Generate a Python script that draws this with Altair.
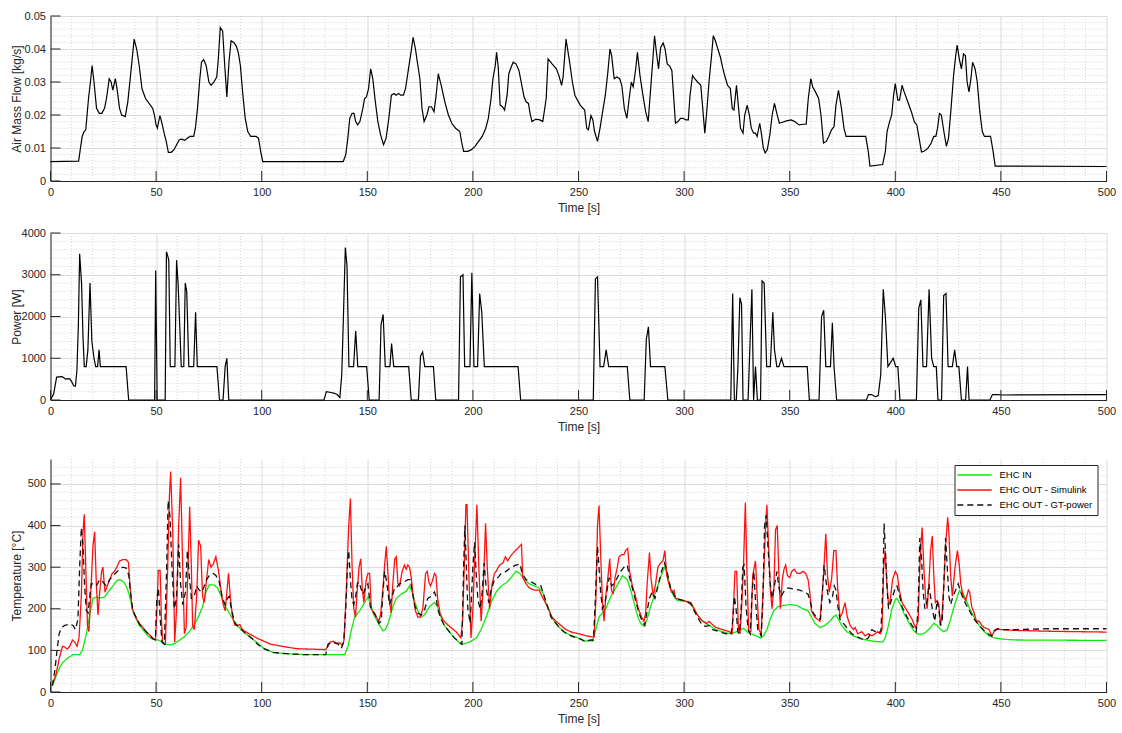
import altair as alt
import pandas as pd

# ---------------- data: [time s, value] ----------------
AIR_FLOW = [
    [0, 0.0059], [13.3, 0.006], [15, 0.0135], [15.9, 0.015], [16.7, 0.0155], [18, 0.025], [18.9, 0.030],
    [19.7, 0.035], [20.6, 0.030], [21.8, 0.022], [23.1, 0.0205], [24.3, 0.0205], [25.6, 0.022], [26.5, 0.025],
    [27.8, 0.031], [28.7, 0.030], [29.5, 0.0275], [30.7, 0.031], [31.5, 0.028], [32.7, 0.022], [33.7, 0.020],
    [35.4, 0.0195], [36.6, 0.024], [37.9, 0.032], [39.6, 0.043], [40.8, 0.040], [42, 0.035], [43.3, 0.028],
    [45, 0.025], [46.7, 0.0235], [48.4, 0.022], [49.2, 0.020], [50, 0.017], [50.6, 0.016], [51.8, 0.0198],
    [52.6, 0.018], [53.8, 0.0145], [54.8, 0.012], [55.8, 0.0087], [57.2, 0.0087], [58.5, 0.0095], [59.7, 0.011],
    [61, 0.0125], [62.2, 0.0127], [63.6, 0.0123], [64.9, 0.013], [66.1, 0.0135], [67.8, 0.0135], [68.6, 0.016],
    [69.6, 0.022], [70.7, 0.031], [71.5, 0.036], [72.5, 0.0368], [73.7, 0.035], [75, 0.030], [76, 0.029],
    [77.4, 0.030], [78.7, 0.0315], [79.4, 0.0365], [80.4, 0.0465], [81.5, 0.0455], [82.5, 0.035], [83.5, 0.0255],
    [84.5, 0.036], [85.5, 0.0425], [86.8, 0.042], [88, 0.0408], [88.9, 0.039], [89.9, 0.035], [91.1, 0.026],
    [92.2, 0.019], [93.4, 0.015], [94.8, 0.0135], [97.3, 0.0135], [98.5, 0.013], [99.5, 0.009], [100.5, 0.0059],
    [138.6, 0.0059], [139.8, 0.008], [140.8, 0.013], [141.7, 0.019], [142.8, 0.0205], [143.7, 0.0205],
    [144.5, 0.018], [145.4, 0.017], [146.5, 0.018], [147.9, 0.022], [148.7, 0.025], [149.6, 0.0255],
    [150.6, 0.028], [151.6, 0.034], [152.6, 0.031], [153.8, 0.024], [155, 0.018], [156.3, 0.014], [157.7, 0.011],
    [158.9, 0.013], [160.2, 0.019], [161.4, 0.026], [162.7, 0.0265], [163.6, 0.026], [164.8, 0.0265],
    [165.9, 0.026], [167.1, 0.026], [168.1, 0.028], [169.5, 0.034], [170.7, 0.039], [171.7, 0.0435],
    [172.8, 0.040], [173.7, 0.036], [174.9, 0.031], [175.9, 0.022], [176.9, 0.018], [178.2, 0.020],
    [179.2, 0.0225], [180.4, 0.0225], [181.6, 0.021], [182.6, 0.026], [183.6, 0.0325], [185, 0.029],
    [186.7, 0.024], [188.4, 0.020], [190, 0.0175], [191.8, 0.016], [193.8, 0.015], [194.6, 0.012], [195.6, 0.009],
    [197.6, 0.009], [199.3, 0.0095], [201, 0.0105], [202.7, 0.012], [204.4, 0.0135], [206.1, 0.016],
    [207.3, 0.019], [208.6, 0.025], [209.5, 0.031], [210.6, 0.035], [211.2, 0.039], [212, 0.0345], [212.9, 0.023],
    [214, 0.0225], [215, 0.0215], [216.2, 0.026], [217, 0.0325], [218.4, 0.035], [219.1, 0.036], [220.4, 0.0355],
    [221.8, 0.0335], [223, 0.0295], [224.2, 0.0255], [225.2, 0.024], [226.3, 0.0235], [227.2, 0.020],
    [228, 0.018], [229.7, 0.0187], [231.4, 0.0186], [233.1, 0.018], [234.7, 0.025], [235.6, 0.037],
    [237.5, 0.0355], [239.5, 0.034], [240.7, 0.032], [242, 0.029], [242.7, 0.0315], [244.1, 0.043],
    [245.8, 0.036], [247.1, 0.030], [248.3, 0.026], [249.5, 0.0245], [250.8, 0.023], [252.9, 0.0215],
    [253.9, 0.016], [254.7, 0.0155], [255.9, 0.0198], [256.8, 0.0185], [257.6, 0.015], [259, 0.012],
    [260.2, 0.016], [261.3, 0.0205], [262.7, 0.026], [263.9, 0.033], [264.9, 0.040], [265.7, 0.038],
    [266.9, 0.031], [268.1, 0.0315], [269.5, 0.031], [270.5, 0.029], [271.7, 0.022], [272.9, 0.019],
    [274, 0.025], [275, 0.030], [275.9, 0.0285], [277.1, 0.034], [277.9, 0.039], [279.1, 0.032], [280.5, 0.026],
    [281.8, 0.021], [283, 0.018], [284.4, 0.030], [285, 0.035], [286, 0.044], [286.9, 0.039], [287.9, 0.034],
    [288.9, 0.0405], [290.1, 0.0418], [291, 0.040], [292, 0.0355], [293.2, 0.0348], [294.2, 0.0335],
    [294.9, 0.027], [295.9, 0.0175], [297.1, 0.018], [298.3, 0.019], [299.6, 0.019], [300.8, 0.0185],
    [302, 0.0185], [302.8, 0.026], [304, 0.032], [305, 0.031], [306.4, 0.030], [307.9, 0.029], [308.7, 0.023],
    [309.8, 0.0145], [310.6, 0.020], [311.8, 0.030], [313, 0.038], [313.8, 0.044], [314.8, 0.0425],
    [316, 0.040], [317.2, 0.0375], [318.2, 0.0345], [319.4, 0.0315], [320.6, 0.029], [321.9, 0.028],
    [322.8, 0.022], [323.6, 0.0215], [324.8, 0.029], [325.8, 0.022], [326.7, 0.016], [327.9, 0.0145],
    [328.7, 0.020], [329.9, 0.023], [330.9, 0.020], [331.8, 0.016], [332.9, 0.0145], [333.8, 0.0145],
    [334.6, 0.0135], [335.8, 0.0175], [336.7, 0.014], [337.5, 0.010], [338.4, 0.0085], [339.4, 0.0095],
    [340.6, 0.014], [341.7, 0.020], [342.8, 0.0235], [343.9, 0.0205], [345.1, 0.0175], [346.5, 0.0178],
    [348.5, 0.0182], [350.7, 0.0185], [352.4, 0.018], [354.4, 0.017], [356.3, 0.0172], [357.8, 0.0172],
    [358.8, 0.025], [360, 0.031], [360.9, 0.0285], [362.2, 0.027], [363.7, 0.025], [364.8, 0.020],
    [366, 0.0115], [367.3, 0.012], [368.5, 0.0135], [369.8, 0.0155], [371, 0.0165], [371.9, 0.023],
    [373.1, 0.0275], [374.5, 0.022], [375.7, 0.016], [376.7, 0.0135], [386, 0.0135], [387.2, 0.009],
    [388, 0.0045], [394, 0.005], [395.3, 0.009], [396.1, 0.015], [397.3, 0.018], [398.3, 0.020], [399.2, 0.026],
    [400, 0.0295], [401.2, 0.0245], [402, 0.0245], [403.2, 0.029], [404.2, 0.027], [405.9, 0.024],
    [407.6, 0.021], [409, 0.018], [410.2, 0.017], [411, 0.014], [412.4, 0.0088], [413.6, 0.009], [415.3, 0.0098],
    [417, 0.0115], [418.2, 0.0135], [419.2, 0.0135], [420, 0.016], [420.9, 0.0205], [421.8, 0.020], [423, 0.015],
    [424.2, 0.0105], [425.2, 0.013], [426.4, 0.022], [427.6, 0.032], [428.6, 0.038], [429.3, 0.0412],
    [430.3, 0.037], [431.3, 0.034], [432.3, 0.0385], [433.2, 0.038], [434, 0.030], [434.9, 0.027],
    [435.8, 0.031], [436.6, 0.036], [437.8, 0.034], [438.8, 0.030], [440, 0.021], [441.2, 0.015],
    [442.2, 0.0135], [445.1, 0.0135], [446.3, 0.009], [447.3, 0.0045], [500, 0.0044],
]

HEATER_POWER = [
    [0, 0], [1.5, 150], [2.9, 550], [5.4, 560], [6.2, 540], [7.1, 500], [8.3, 510], [9.3, 500], [10.1, 430],
    [11, 340], [11.8, 330], [12.5, 700], [13.2, 1800], [13.8, 3500], [14.7, 2800], [15.4, 1500], [16, 800],
    [16.9, 800], [17.7, 1200], [18.7, 2800], [19.6, 1400], [20.6, 1000], [21.4, 800], [22.3, 800], [23, 1200],
    [23.6, 800], [35.8, 800], [37, 0], [49.3, 0], [49.8, 3100], [50.5, 0], [54.3, 0], [54.9, 3550], [55.5, 3450],
    [56, 3350], [56.7, 800], [58.9, 800], [59.7, 3350], [60.4, 2800], [61.4, 1500], [61.9, 800], [63.1, 800],
    [63.8, 2800], [64.5, 2600], [65.5, 800], [67.8, 800], [68.7, 2100], [69.5, 800], [78.8, 800], [80, 0],
    [81.7, 0], [82.7, 800], [83.5, 1000], [84.4, 0], [129.5, 0], [130.6, 200], [132.8, 180], [134.5, 160],
    [135.7, 130], [137, 60], [137.9, 600], [138.7, 2000], [139.6, 3650], [140.4, 3200], [141.3, 800],
    [143.5, 800], [144.5, 1650], [145.5, 800], [149.7, 800], [150.9, 0], [155.6, 0], [156.5, 1800],
    [157.5, 2050], [158.5, 800], [160.7, 800], [161.5, 1350], [162.5, 800], [169.6, 800], [170.8, 0],
    [174.2, 0], [175.2, 1050], [176.2, 1150], [177.2, 800], [181.3, 800], [182.4, 0], [193.2, 0], [194.1, 2950],
    [195.3, 3000], [196.1, 800], [198.6, 800], [199.5, 3050], [200.5, 800], [202.2, 800], [203.2, 2550],
    [204.2, 2100], [205.4, 800], [221.4, 800], [222.6, 0], [257, 0], [258, 2900], [259, 2950], [260.2, 800],
    [261.9, 800], [263.1, 1200], [264.3, 800], [273.1, 800], [274.3, 0], [281.1, 0], [282.1, 1450],
    [283.1, 1750], [284.1, 800], [290.9, 800], [292.3, 0], [322.1, 0], [323, 2550], [323.8, 0], [324.7, 0],
    [325.5, 800], [326.4, 2450], [327.2, 2300], [327.9, 0], [330.3, 0], [331.3, 1500], [332.1, 2650],
    [332.9, 0], [333.8, 800], [334.7, 0], [336.2, 0], [336.9, 2850], [337.9, 2800], [339.1, 800], [340.8, 800],
    [342, 2100], [342.8, 1200], [343.9, 800], [344.9, 800], [346.1, 1000], [347.3, 800], [358.3, 800],
    [359.3, 0], [363.9, 0], [365.1, 2000], [366.1, 2150], [367.1, 800], [369.3, 800], [370.2, 1850], [371, 800],
    [372.2, 0], [386.3, 0], [387.3, 130], [388.8, 130], [390.5, 80], [391.9, 100], [393.1, 600], [394.3, 2650],
    [395.3, 2000], [396.5, 800], [397.8, 900], [399, 1000], [400.2, 800], [401.2, 800], [402.2, 0], [410, 0],
    [411.1, 2200], [412.1, 2400], [413.1, 800], [414.8, 800], [416, 2650], [417.2, 1000], [418.2, 800],
    [419.4, 800], [420.2, 0], [421.9, 0], [422.9, 2500], [424, 2550], [425, 800], [427, 800], [428.1, 1200],
    [429.1, 800], [430.1, 800], [431.3, 0], [433.3, 0], [434.2, 800], [434.9, 0], [444.8, 0], [446, 130],
    [448.2, 130], [450.8, 120], [500, 130],
]

EHC_IN = [
    [0.9, 15], [2.8, 40], [4.4, 60], [6, 72], [8.3, 82], [10.7, 90], [13.8, 90], [15.1, 100], [17, 140],
    [18.6, 185], [20.1, 225], [21.7, 228], [23.3, 226], [25.6, 228], [27.2, 240], [29.6, 255], [31.4, 268],
    [33, 270], [35.1, 262], [36.6, 245], [37.7, 225], [39, 195], [40.6, 175], [42.1, 160], [43.7, 150],
    [46.1, 135], [48.4, 127], [50.8, 125], [52.4, 122], [54.4, 115], [56.3, 113], [58.6, 116], [61, 124],
    [63.4, 133], [65.7, 145], [68.1, 162], [70.4, 185], [72, 205], [73.6, 240], [75.2, 258], [77.5, 257],
    [79.1, 250], [80.7, 232], [82.2, 210], [84.6, 190], [87, 170], [89.3, 155], [92.5, 140], [95.6, 128],
    [98, 118], [101, 105], [105.5, 95], [111.8, 92], [119.7, 90], [139.3, 90], [140.9, 110], [142.5, 150],
    [144, 180], [146.4, 195], [148.7, 215], [150.3, 228], [151.4, 215], [152.7, 190], [154.2, 175],
    [155.8, 160], [157.4, 147], [158.6, 150], [160.2, 170], [161.8, 200], [163.7, 225], [166, 235],
    [168.4, 242], [170, 255], [171.2, 240], [172.3, 220], [173.9, 195], [175.5, 180], [177, 185], [179.4, 205],
    [181.8, 215], [183.3, 205], [184.9, 180], [186.5, 160], [188.8, 145], [191.2, 130], [194.3, 115],
    [195.3, 115], [198.4, 120], [201.6, 130], [203.9, 150], [206.3, 180], [208.6, 215], [211, 240],
    [213.4, 255], [215.7, 262], [218.1, 275], [220.4, 290], [222.3, 285], [224.4, 270], [226.7, 260],
    [229.1, 255], [231.4, 250], [233, 240], [234.6, 215], [236.5, 190], [238.5, 170], [240.9, 155],
    [243.2, 145], [245.6, 138], [248.7, 132], [251.1, 127], [253.5, 122], [255, 125], [256.6, 122],
    [258.2, 150], [259.7, 180], [261.3, 190], [262.9, 200], [265.3, 230], [267.6, 250], [270.8, 280],
    [273.1, 270], [274.7, 245], [276.3, 215], [277.8, 185], [279.4, 165], [281, 158], [282.5, 175],
    [284.1, 205], [286.5, 240], [288.8, 275], [290.7, 300], [291.9, 285], [293.6, 250], [295.1, 230],
    [296.7, 220], [300.8, 218], [302.4, 215], [304, 205], [305.6, 190], [307.9, 175], [310.3, 165],
    [311.9, 160], [315.1, 150], [318.3, 145], [321.4, 140], [323.8, 143], [326.2, 148], [328.1, 153],
    [329.7, 145], [331.7, 140], [334.1, 135], [336, 130], [337.6, 135], [339.2, 150], [340.8, 175],
    [342.4, 195], [344.4, 205], [346.8, 208], [350, 210], [353.2, 208], [356.3, 200], [358.7, 195],
    [360.3, 180], [361.9, 165], [364.3, 155], [366.7, 160], [369, 170], [370.6, 180], [371.9, 185],
    [373, 175], [374.6, 160], [377, 145], [380.2, 135], [383.3, 128], [386.5, 125], [389.7, 122], [394, 120],
    [395.2, 130], [396.8, 160], [398.4, 200], [400, 222], [400.8, 225], [402.4, 210], [404, 190], [405.6, 175],
    [407.1, 160], [408.7, 148], [410.3, 140], [411.9, 138], [414.3, 143], [416.7, 155], [418.3, 165],
    [419.8, 160], [421.4, 150], [423, 145], [424.6, 150], [426.2, 175], [427.8, 205], [429.4, 230],
    [430.5, 245], [431.7, 240], [433.3, 225], [435.2, 200], [437.3, 180], [439.7, 160], [442.1, 145],
    [444.4, 135], [446.8, 130], [450.8, 127], [457.1, 125], [500, 124],
]

EHC_OUT_SIMULINK = [
    [0.9, 20], [2.5, 40], [4.1, 80], [5.7, 110], [6.8, 108], [7.9, 103], [9.1, 110], [10.4, 125], [11.5, 120],
    [12.6, 110], [13.5, 130], [14.6, 230], [15.4, 385], [16, 427], [16.7, 300], [17.5, 160], [18.2, 145],
    [19, 230], [20.1, 350], [20.9, 385], [21.7, 260], [22.5, 185], [23.3, 240], [24.2, 290], [24.8, 300],
    [25.8, 240], [26.9, 255], [28, 270], [29.2, 285], [30.3, 290], [31.4, 300], [32.7, 315], [34.3, 318],
    [35.8, 318], [36.9, 312], [37.7, 250], [38.7, 200], [40.6, 178], [42.1, 165], [45.3, 145], [48.4, 130],
    [49.7, 125], [50.5, 210], [51, 292], [51.9, 292], [52.5, 180], [53.1, 118], [54.4, 115], [55.5, 300],
    [56.3, 470], [56.9, 530], [57.9, 380], [58.8, 120], [59.7, 200], [60.7, 400], [61.6, 515], [62.6, 300],
    [63.4, 140], [64.2, 155], [65.1, 300], [65.9, 445], [66.7, 300], [67.3, 160], [68.1, 150], [69.2, 230],
    [70.1, 365], [71.1, 350], [72, 230], [72.8, 215], [73.9, 270], [74.9, 318], [76, 300], [77.1, 308],
    [78.3, 325], [79.6, 290], [80.7, 245], [81.8, 210], [82.7, 195], [83.5, 240], [84.3, 285], [85.1, 230],
    [86.2, 180], [87.4, 160], [88.5, 160], [89.6, 162], [90.9, 150], [94, 140], [98, 129], [104.2, 115],
    [110.5, 109], [116.8, 104], [130.3, 102], [131.4, 110], [132.5, 120], [133.8, 122], [135.4, 117],
    [137, 118], [138.2, 112], [139, 125], [140.1, 250], [141.2, 400], [142, 465], [142.8, 300], [143.6, 200],
    [144.4, 180], [145.3, 250], [146.1, 300], [146.9, 320], [147.6, 250], [148.4, 215], [149.5, 270],
    [150.3, 285], [151.1, 285], [151.9, 200], [153, 190], [154.2, 180], [155.5, 170], [156.4, 190],
    [157.4, 250], [158.2, 305], [159, 350], [159.6, 300], [160.5, 220], [161.3, 190], [162.1, 260],
    [163, 320], [163.7, 325], [164.5, 260], [165.3, 255], [166.5, 290], [167.6, 305], [168.4, 295],
    [169.2, 305], [170, 300], [170.8, 275], [171.5, 240], [172.8, 195], [173.9, 180], [175, 180], [176.3, 200],
    [177.6, 285], [178.4, 290], [179.1, 265], [179.9, 255], [180.7, 265], [181.8, 285], [182.5, 280],
    [183.3, 225], [184.4, 190], [185.7, 175], [187.3, 165], [189.6, 155], [192, 145], [194.3, 130],
    [195.1, 170], [195.9, 300], [196.7, 450], [197.2, 450], [198.1, 280], [199.1, 130], [200, 200],
    [201.1, 350], [201.9, 450], [202.8, 300], [203.9, 170], [205, 260], [206, 405], [206.8, 300], [207.9, 200],
    [209.1, 260], [210.2, 285], [211, 290], [212.6, 305], [214.2, 310], [215.4, 325], [216.5, 315],
    [217.6, 325], [219.2, 335], [221.2, 345], [223, 355], [223.6, 275], [225.2, 260], [226.7, 250],
    [229.1, 245], [231.4, 245], [232.7, 230], [234.3, 215], [235.8, 200], [237.4, 180], [239.3, 170],
    [241.7, 160], [244, 150], [247.2, 143], [250.3, 140], [253.5, 135], [257.4, 132], [258.2, 220], [259, 400],
    [259.7, 448], [260.5, 330], [261.3, 220], [262.1, 170], [262.9, 230], [264, 280], [264.8, 320],
    [265.6, 245], [266.4, 235], [267.3, 275], [268.4, 300], [269.2, 325], [270.4, 330], [271.5, 330],
    [272.3, 340], [273.3, 345], [274.2, 290], [275.5, 255], [277, 230], [278.3, 200], [279.9, 180], [281, 170],
    [281.8, 190], [282.5, 260], [283.6, 335], [284.4, 270], [285.4, 230], [286.5, 260], [287.6, 300],
    [288.8, 310], [290, 315], [290.9, 340], [291.8, 280], [292.8, 260], [294, 240], [295.2, 245], [296, 225],
    [298.4, 222], [300.8, 218], [303.2, 215], [304.8, 200], [306.3, 185], [308.7, 170], [310.6, 165],
    [311.9, 170], [313.2, 163], [315.1, 155], [318.3, 150], [321.4, 145], [322.7, 140], [323.5, 220],
    [324.1, 290], [324.9, 290], [325.7, 150], [326.5, 140], [327.3, 210], [328.1, 300], [329, 455],
    [329.8, 280], [330.6, 145], [331.6, 145], [332.5, 280], [333.8, 315], [334.6, 230], [335.4, 150],
    [336.5, 140], [337.6, 270], [338.6, 400], [339.2, 450], [340, 350], [340.8, 250], [341.6, 200],
    [342.5, 250], [343.3, 390], [344.1, 400], [344.9, 280], [345.6, 200], [346.5, 270], [347.3, 295],
    [348.1, 305], [348.9, 280], [350, 275], [351, 290], [352.1, 295], [353.5, 285], [354.8, 285], [356.3, 290],
    [357.6, 285], [358.7, 270], [359.5, 240], [360.3, 195], [361.9, 180], [364.3, 170], [365.9, 270],
    [367.1, 380], [367.9, 280], [368.7, 240], [369.8, 270], [370.9, 340], [371.9, 340], [372.7, 250],
    [373.8, 180], [374.9, 190], [376.2, 215], [377.3, 180], [378.6, 160], [380.2, 150], [381, 155],
    [382.2, 140], [384.1, 145], [385.7, 135], [387.3, 140], [388.9, 135], [390.5, 140], [391.6, 145],
    [392.9, 140], [393.7, 150], [394.5, 300], [395.2, 340], [396, 260], [396.8, 210], [397.6, 220],
    [398.7, 270], [400, 290], [401, 280], [401.9, 245], [403.2, 215], [405.6, 195], [407.9, 175], [409.5, 155],
    [410.8, 170], [411.6, 300], [412.2, 360], [412.7, 395], [413.5, 300], [414.3, 230], [415.1, 200],
    [415.9, 260], [416.7, 340], [417.5, 375], [418.3, 270], [419, 215], [419.8, 220], [420.6, 210],
    [421.4, 160], [422.2, 190], [423, 260], [423.8, 350], [424.8, 420], [425.4, 380], [426.2, 280], [427, 230],
    [428.3, 300], [429.4, 340], [430.2, 310], [431, 260], [432.1, 230], [433.3, 220], [434.6, 245],
    [435.2, 240], [436.2, 205], [437.3, 190], [438.4, 170], [439.7, 170], [441, 160], [442.1, 155],
    [443.7, 152], [444.4, 150], [445.7, 135], [446.8, 145], [448.4, 152], [450, 150], [457.1, 148],
    [473, 146], [500, 144],
]

EHC_OUT_GTPOWER = [
    [0.9, 15], [2, 50], [3.1, 100], [4.1, 140], [5.2, 155], [6.8, 160], [9.1, 163], [10.7, 160], [11.8, 150],
    [13, 175], [13.8, 300], [14.6, 395], [15.4, 350], [16.2, 250], [17, 195], [17.8, 190], [18.6, 230],
    [19.3, 260], [20.4, 260], [21.7, 255], [23.3, 270], [24.8, 265], [26.4, 255], [28, 270], [30.3, 283],
    [32.7, 295], [34.3, 300], [35.8, 298], [37.1, 280], [38.1, 230], [39, 195], [42.1, 163], [45.3, 145],
    [48.4, 128], [49.7, 125], [50.3, 220], [51.1, 250], [51.9, 180], [52.8, 120], [53.9, 115], [55, 300],
    [55.7, 460], [56.6, 420], [57.5, 300], [58.6, 200], [59.7, 225], [60.7, 355], [61.6, 260], [62.6, 210],
    [63.9, 240], [64.8, 340], [65.7, 280], [66.7, 225], [68.1, 230], [69.2, 255], [70.4, 245], [71.7, 240],
    [72.8, 255], [73.9, 270], [75.2, 280], [77.1, 285], [78.3, 280], [79.9, 265], [81.4, 225], [82.7, 210],
    [83.8, 225], [84.6, 230], [85.8, 195], [87.4, 165], [89.3, 155], [92.5, 140], [95.6, 128], [98, 115],
    [101, 104], [105.5, 95], [111.8, 92], [119.7, 90], [130.3, 90], [131.4, 115], [133, 120], [134.6, 118],
    [136.2, 115], [137.7, 105], [138.8, 120], [139.8, 200], [140.6, 300], [141.2, 340], [142, 270],
    [142.8, 220], [143.6, 210], [144.5, 230], [145.3, 260], [146.1, 265], [146.9, 250], [148, 235],
    [149.1, 250], [150.3, 260], [151.4, 205], [152.7, 195], [153.9, 185], [155.5, 165], [156.6, 170],
    [157.4, 240], [158.2, 290], [159, 270], [159.8, 240], [160.5, 210], [161.8, 230], [162.9, 250],
    [163.7, 250], [165.3, 260], [167.6, 265], [169.2, 270], [170.3, 270], [171.2, 245], [172.3, 210],
    [173.9, 190], [175.5, 185], [177, 195], [178.6, 225], [180.2, 230], [181.8, 240], [182.5, 230],
    [183.3, 200], [184.9, 175], [186.5, 160], [188.8, 145], [191.2, 130], [193.6, 120], [194.8, 115],
    [195.6, 300], [196.2, 400], [196.9, 300], [197.6, 200], [198.7, 165], [200, 300], [200.8, 360],
    [201.6, 280], [202.4, 220], [203.5, 200], [204.4, 240], [205.3, 310], [206.3, 250], [207.5, 215],
    [208.6, 245], [210.2, 270], [211.8, 275], [213.4, 285], [215.7, 290], [218.1, 300], [220.4, 305],
    [222.3, 308], [223.3, 285], [225.2, 270], [227.5, 265], [229.9, 258], [232.2, 255], [233.8, 230],
    [235.4, 205], [237, 180], [239.3, 165], [241.7, 150], [244.8, 138], [248, 132], [251.1, 127], [253.5, 120],
    [255.8, 125], [257.1, 125], [258.2, 250], [259, 350], [259.7, 300], [260.5, 240], [261.3, 200],
    [262.6, 215], [263.7, 250], [264.5, 275], [265.7, 255], [266.8, 260], [268.4, 275], [270, 290],
    [271.5, 300], [273.1, 305], [274.2, 275], [275.5, 250], [277, 220], [278.6, 190], [280.2, 170],
    [281.4, 160], [282.5, 195], [283.6, 225], [284.9, 240], [286.2, 225], [287.7, 255], [289.3, 290],
    [290.7, 310], [291.9, 290], [293.6, 250], [295.1, 235], [296, 225], [300.8, 218], [303.2, 212],
    [304.8, 195], [306.3, 180], [308.7, 160], [310.3, 158], [311.9, 160], [313.5, 150], [316.7, 145],
    [319.8, 140], [322.2, 138], [323, 170], [323.8, 230], [324.6, 200], [325.4, 145], [326.2, 140], [327, 200],
    [327.8, 300], [328.4, 305], [329.4, 200], [330.3, 150], [331.3, 140], [332.2, 240], [333, 290],
    [333.8, 220], [334.9, 150], [336.5, 135], [337.3, 220], [338.1, 400], [338.9, 425], [339.7, 350],
    [340.8, 260], [341.7, 225], [342.9, 260], [344, 290], [344.9, 250], [346, 230], [347.6, 245], [349.2, 250],
    [351.6, 248], [354.8, 245], [357.1, 240], [358.7, 235], [359.8, 215], [361.1, 190], [362.7, 180],
    [364.6, 175], [365.6, 250], [366.3, 305], [367.1, 270], [367.9, 240], [369, 215], [370.3, 230],
    [371.1, 255], [371.9, 245], [372.7, 210], [373.8, 175], [375.4, 165], [377, 155], [379.4, 140],
    [381.7, 133], [384.1, 128], [385.7, 125], [387.3, 130], [388.9, 150], [390.5, 145], [392.1, 140],
    [393.2, 148], [394.1, 250], [394.7, 405], [395.5, 320], [396.2, 240], [396.8, 200], [398.1, 220],
    [400, 250], [400.8, 255], [401.9, 235], [403.2, 205], [405.6, 180], [407.9, 160], [409.9, 145],
    [410.8, 200], [411.6, 370], [412.4, 320], [413.2, 240], [414, 200], [415.1, 220], [415.9, 260],
    [416.7, 230], [417.5, 200], [418.7, 170], [419.8, 220], [420.6, 200], [421.4, 160], [422.2, 170],
    [423, 260], [423.8, 370], [424.6, 300], [425.4, 230], [426.2, 210], [427.3, 230], [428.6, 245],
    [429.8, 260], [431, 240], [432.5, 220], [434.1, 205], [435.7, 190], [437.3, 175], [439.7, 160],
    [442.1, 148], [444.4, 138], [445.7, 135], [446.8, 148], [448.4, 152], [450, 150], [457.1, 150],
    [473, 152], [500, 152],
]

SERIES_NAMES = ["EHC IN", "EHC OUT - Simulink", "EHC OUT - GT-power"]
SERIES_COLORS = ["#10e810", "#ff1010", "#111111"]
SERIES_DASH = [[1, 0], [1, 0], [6, 4]]

X_TICKS = list(range(0, 501, 50))
X_MINOR = [v for v in range(10, 500, 10) if v % 50]
AIR_TICKS = [0, 0.01, 0.02, 0.03, 0.04, 0.05]
AIR_MINOR = [i / 500 for i in range(1, 25) if i % 5]
POW_TICKS = [0, 1000, 2000, 3000, 4000]
POW_MINOR = [v for v in range(200, 4000, 200) if v % 1000]
TEMP_TICKS = [0, 100, 200, 300, 400, 500]
TEMP_MINOR = [v for v in range(20, 560, 20) if v % 100]

# ---------------- styling ----------------
AX = "#262626"
GRID = "#dcdcdc"
MINOR = "#d2d2d2"
W = 1056
FONT = "Liberation Sans"
H1, H2, H3 = 165, 167, 233


def frame(rows):
    return pd.DataFrame(rows, columns=["t", "v"])


def panel(line_layer, ydom, yticks, yminor, height, ytitle, yfmt, title_pad):
    xs = alt.Scale(domain=[0, 500], nice=False, zero=False)
    ys = alt.Scale(domain=ydom, nice=False, zero=False)

    x_axis = alt.Axis(values=X_TICKS, title="Time [s]", grid=True, gridColor=GRID, ticks=False,
                      domainColor=AX, labelPadding=5, titlePadding=5, format="d", labelFlush=False)
    y_axis = alt.Axis(values=yticks, title=ytitle, grid=True, gridColor=GRID, ticks=False,
                      domainColor=AX, labelPadding=5, format=yfmt, titlePadding=title_pad, labelFlush=False)

    minor_x = alt.Chart(pd.DataFrame({"m": X_MINOR})).mark_rule(
        color=MINOR, strokeDash=[1, 2], strokeWidth=1
    ).encode(x=alt.X("m:Q", scale=xs, axis=x_axis))
    minor_y = alt.Chart(pd.DataFrame({"m": yminor})).mark_rule(
        color=MINOR, strokeDash=[1, 2], strokeWidth=1
    ).encode(y=alt.Y("m:Q", scale=ys, axis=y_axis))

    lines = line_layer.encode(
        x=alt.X("t:Q", scale=xs, axis=x_axis),
        y=alt.Y("v:Q", scale=ys, axis=y_axis),
    )

    # inward tick marks along the bottom and left axes
    xt = alt.Chart(pd.DataFrame({"k": X_TICKS})).mark_rule(color=AX, strokeWidth=1).encode(
        x=alt.X("k:Q", scale=xs, axis=x_axis), y=alt.value(height), y2=alt.value(height - 10)
    )
    yt = alt.Chart(pd.DataFrame({"k": yticks})).mark_rule(color=AX, strokeWidth=1).encode(
        y=alt.Y("k:Q", scale=ys, axis=y_axis), x=alt.value(0), x2=alt.value(10)
    )
    return alt.layer(minor_x, minor_y, lines, xt, yt).properties(width=W, height=height)


air = alt.Chart(frame(AIR_FLOW)).mark_line(color="#000000", strokeWidth=1.2)
p1 = panel(air, [0, 0.05], AIR_TICKS, AIR_MINOR, H1, "Air Mass Flow [kg/s]", ".2~f", 1)

pw = alt.Chart(frame(HEATER_POWER)).mark_line(color="#000000", strokeWidth=1.2)
p2 = panel(pw, [0, 4000], POW_TICKS, POW_MINOR, H2, "Power [W]", "d", -2)

temp_rows = []
for name, rows in zip(SERIES_NAMES, [EHC_IN, EHC_OUT_SIMULINK, EHC_OUT_GTPOWER]):
    for t, v in rows:
        temp_rows.append({"t": t, "v": v, "series": name})
temp_df = pd.DataFrame(temp_rows)

SP1, SP2 = 14, 26

# legend sits in the top-right corner of the temperature panel
legend = alt.Legend(
    title=None, orient="none", legendX=904, legendY=449,
    symbolType="M-4.3,0H4.3", symbolSize=64, symbolOffset=10, symbolStrokeWidth=1.4,
    labelFontSize=9.5, labelColor="#000000", labelFont=FONT, labelOffset=20,
    fillColor="#ffffff", strokeColor="#262626", padding=5, rowPadding=5,
)
temp = alt.Chart(temp_df).mark_line(strokeWidth=1.3).encode(
    color=alt.Color("series:N", scale=alt.Scale(domain=SERIES_NAMES, range=SERIES_COLORS), legend=legend),
    strokeDash=alt.StrokeDash("series:N", scale=alt.Scale(domain=SERIES_NAMES, range=SERIES_DASH), legend=legend),
)
p3 = panel(temp, [0, 560], TEMP_TICKS, TEMP_MINOR, H3, "Temperature [°C]", "d", 3.5)

chart = alt.vconcat(
    alt.vconcat(p1, p2, spacing=SP1),
    p3,
    spacing=SP2,
).properties(
    padding={"left": 9.5, "top": 10, "right": 2, "bottom": 3},
    background="#ffffff",
).configure(font=FONT).configure_view(stroke=None).configure_axis(
    labelFont=FONT, titleFont=FONT, labelFontSize=11, titleFontSize=12,
    labelColor=AX, titleColor=AX, titleFontWeight="normal", domainWidth=1,
)

chart.save("out.html", embed_options={"renderer": "svg", "actions": False})
